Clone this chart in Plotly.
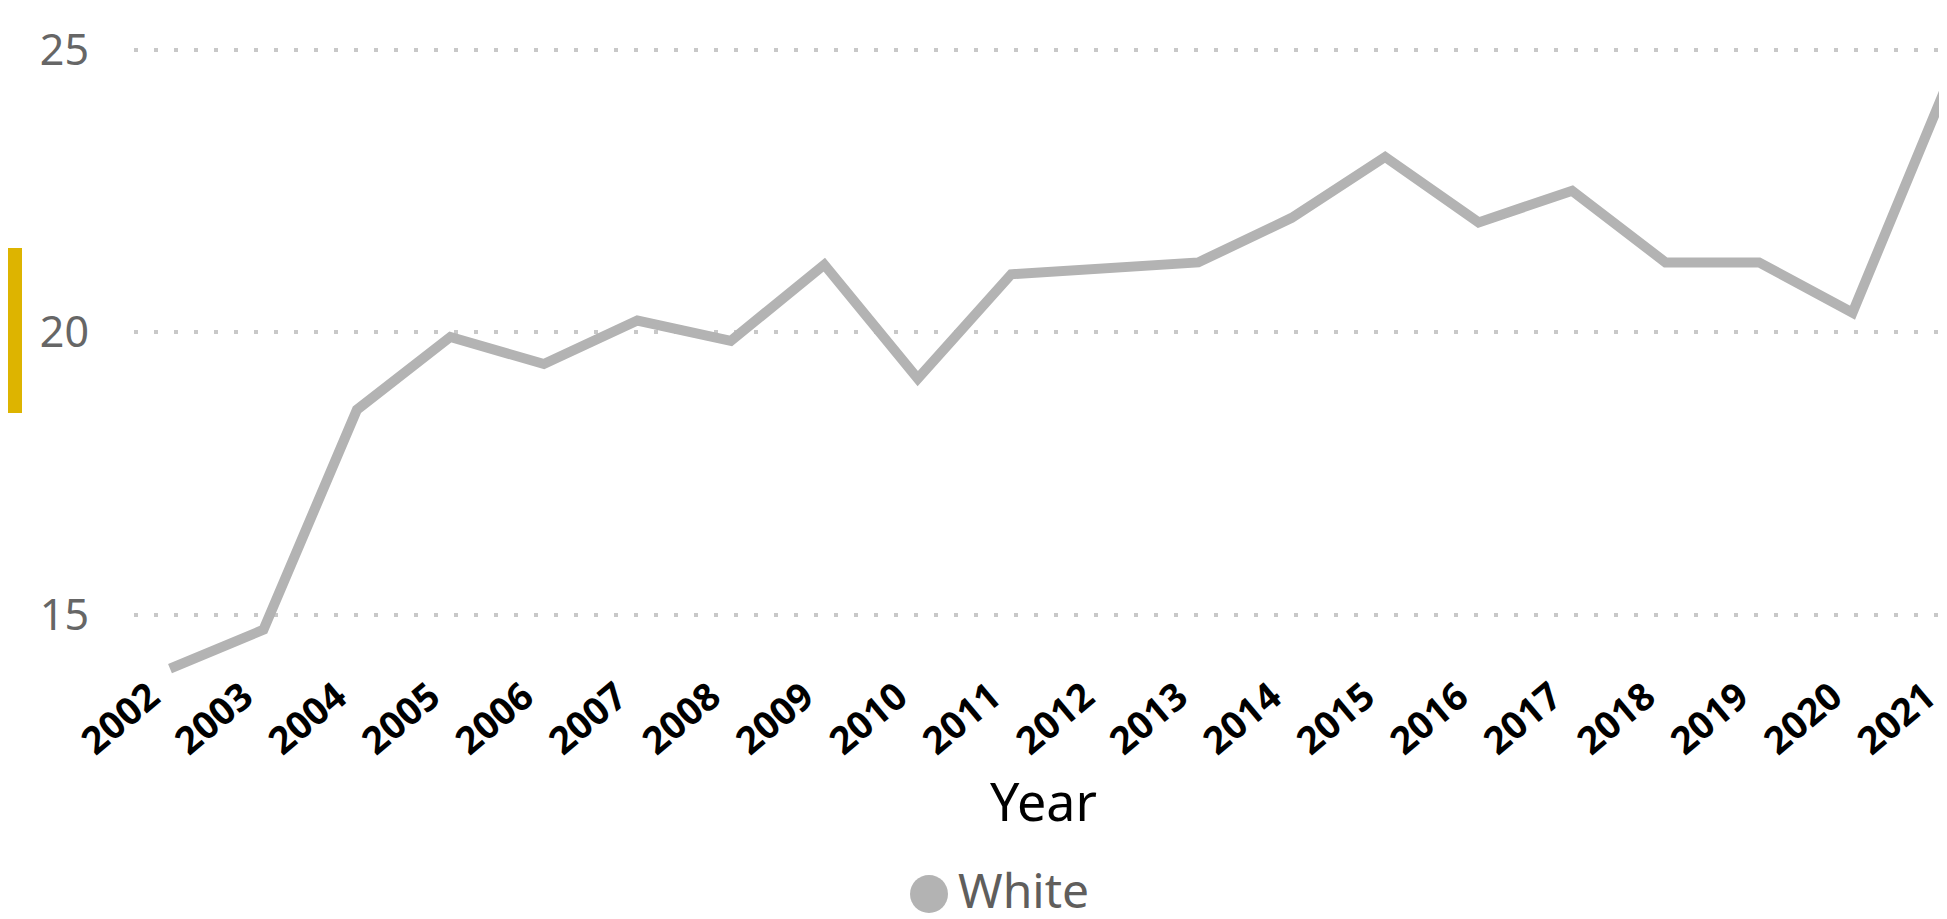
import plotly.graph_objects as go

years = list(range(2002, 2022))
white = [14.04, 14.73, 18.63, 19.92, 19.44, 20.21, 19.85, 21.2, 19.18, 21.03,
         None, 21.24, 22.03, 23.11, 21.95, 22.51, 21.24, 21.24, 20.35, 24.35]
y_ticks = [15, 20, 25]
series_name = "White"
x_title = "Year"

W, H = 1947, 919
L, R, T, B = 126, 2, 20, 247
PW, PH = W - L - R, H - T - B


def px_x(p):
    return (p - L) / PW


def px_y(p):
    return (H - B - p) / PH


fig = go.Figure()
fig.add_trace(go.Scatter(
    x=years, y=white, mode="lines", name=series_name, connectgaps=True,
    line=dict(color="#B3B3B3", width=10), showlegend=False,
    hoverinfo="x+y",
))

fig.update_layout(
    width=W, height=H,
    margin=dict(l=L, r=R, t=T, b=B),
    paper_bgcolor="white", plot_bgcolor="white",
    font=dict(family="Noto Sans, Segoe UI, sans-serif"),
    showlegend=False,
    xaxis=dict(
        type="linear", range=[2001.615, 2021.075],
        tickmode="array", tickvals=years, ticktext=[str(y) for y in years],
        tickangle=-40, showgrid=False, zeroline=False, showline=False, ticks="",
        ticklabeloverflow="allow", ticklabelstandoff=-14, ticklabelshift=-20,
        tickfont=dict(family="Noto Sans", size=38, color="black", weight="bold"),
        title=dict(text=x_title, font=dict(family="Noto Sans", size=52, color="black"), standoff=4),
        automargin=False,
    ),
    yaxis=dict(
        range=[13.839, 25.395], tickmode="array", tickvals=y_ticks,
        showgrid=True, gridcolor="#C8C8C8", gridwidth=4, griddash="4px,16px",
        zeroline=False, showline=False, ticks="",
        tickfont=dict(family="Noto Sans", size=43, color="#666666"),
        ticklabelstandoff=44, automargin=False,
    ),
    shapes=[
        dict(type="rect", xref="paper", yref="paper",
             x0=px_x(0), x1=px_x(14), y0=px_y(405), y1=px_y(240),
             fillcolor="#DDB400", line=dict(width=0), layer="above"),
        dict(type="circle", xref="paper", yref="paper", xsizemode="pixel", ysizemode="pixel",
             xanchor=px_x(921), yanchor=px_y(886), x0=-19, x1=19, y0=-19, y1=19,
             fillcolor="#B3B3B3", line=dict(width=0), layer="above"),
    ],
    annotations=[dict(
        xref="paper", yref="paper", x=px_x(948), y=px_y(881), xanchor="left", yanchor="middle",
        showarrow=False, text=series_name,
        font=dict(family="Noto Sans", size=48, color="#605E5C"),
    )],
)

fig.write_html("out.html")
